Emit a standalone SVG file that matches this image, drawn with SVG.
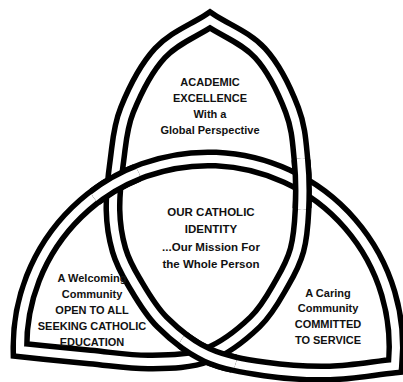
<svg xmlns="http://www.w3.org/2000/svg" width="403" height="382" viewBox="0 0 403 382">
<style>
.bo{fill:none;stroke:#000;stroke-width:19;stroke-linejoin:miter;stroke-miterlimit:10}
.bi{fill:none;stroke:#fff;stroke-width:8;stroke-linejoin:miter;stroke-miterlimit:10}
text{font-family:"Liberation Sans",Arial,sans-serif;font-weight:bold;font-size:11px;fill:#111;text-anchor:middle}
#center text{font-size:11.5px}
</style>
<defs>
<path id="knot" d="M113,210 C113.3,225 115.5,238 119,250 C122.5,262 126.8,270 134,282 C141.2,294 149.8,309.8 162,322 C174.2,334.2 189.8,347.2 207,355 C224.2,362.8 244.5,366 265,369 C285.5,372 308.3,373.5 330,373 C351.7,372.5 373.3,368.3 395,366 A188,188 0 1 0 20,350 C43.3,352.3 68.3,355 90,357 C111.7,359 130.5,362.3 150,362 C169.5,361.7 189.5,361.7 207,355 C224.5,348.3 242.5,334 255,322 C267.5,310 275,295 282,283 C289,271 293.7,262.2 297,250 C300.3,237.8 301.3,225 302,210 C302.7,195 302.7,176.7 301,160 C299.3,143.3 298.8,127.8 292,110 C285.2,92.2 273.7,68 260,53 C246.3,38 226.7,31 210,20 C193.3,31 173.8,38 160,53 C146.2,68 134.2,92.2 127,110 C119.8,127.8 119.3,143.3 117,160 C114.7,176.7 112.7,195 113,210 Z"/>
<path id="arcA" d="M134,282 C141.2,294 149.8,309.8 162,322 C174.2,334.2 189.8,347.2 207,355 C224.2,362.8 244.5,366 265,369 C285.5,372 308.3,373.5 330,373"/>
<path id="arcB" d="M297,250 C300.3,237.8 301.3,225 302,210 C302.7,195 302.7,176.7 301,160 C299.3,143.3 298.8,127.8 292,110"/>
<path id="arcC" d="M20,350 A188,188 0 1 1 395,366"/>
<clipPath id="xL"><circle cx="115" cy="183" r="26"/></clipPath>
<clipPath id="xR"><circle cx="302" cy="184" r="26"/></clipPath>
<clipPath id="xB"><circle cx="207" cy="355" r="30"/></clipPath>
</defs>
<rect width="403" height="382" fill="#fff"/>
<g id="connectors">
<use href="#knot" class="bo"/>
<use href="#knot" class="bi"/>
<g clip-path="url(#xL)"><use href="#arcC" class="bo"/><use href="#arcC" class="bi"/></g>
<g clip-path="url(#xR)"><use href="#arcB" class="bo"/><use href="#arcB" class="bi"/></g>
<g clip-path="url(#xB)"><use href="#arcA" class="bo"/><use href="#arcA" class="bi"/></g>
</g>
<g id="top">
<text x="210" y="86">ACADEMIC</text>
<text x="210" y="102">EXCELLENCE</text>
<text x="210" y="118">With a</text>
<text x="210" y="134">Global Perspective</text>
</g>
<g id="center">
<text x="211" y="216">OUR CATHOLIC</text>
<text x="211" y="233">IDENTITY</text>
<text x="211" y="251">...Our Mission For</text>
<text x="211" y="268">the Whole Person</text>
</g>
<g id="left">
<text x="92" y="282">A Welcoming</text>
<text x="92" y="298">Community</text>
<text x="92" y="314">OPEN TO ALL</text>
<text x="92" y="330">SEEKING CATHOLIC</text>
<text x="92" y="346">EDUCATION</text>
</g>
<g id="right">
<text x="328" y="297">A Caring</text>
<text x="328" y="312">Community</text>
<text x="328" y="328">COMMITTED</text>
<text x="328" y="344">TO SERVICE</text>
</g>
</svg>
